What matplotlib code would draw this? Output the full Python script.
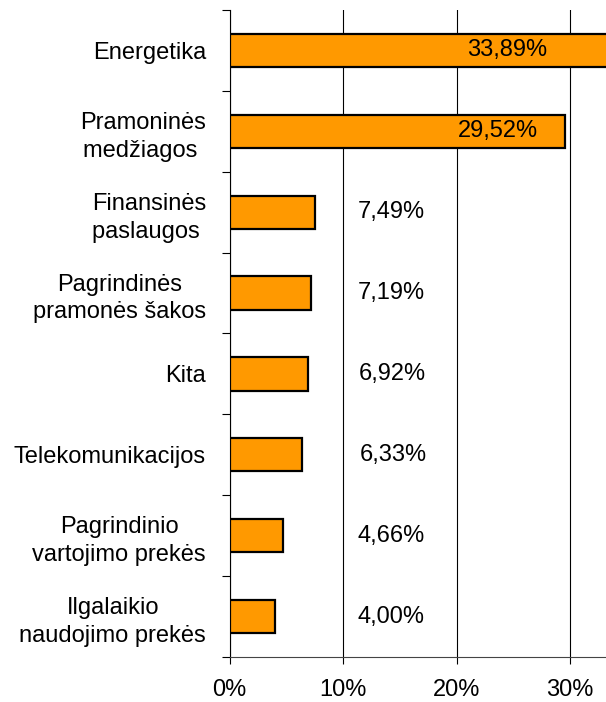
import numpy as np
import matplotlib
matplotlib.use("Agg")
import matplotlib.pyplot as plt

plt.rcParams['font.family'] = ['Liberation Sans', 'DejaVu Sans']

# duomenys (iš viršaus į apačią)
sektoriai = [
    "Energetika",
    "Pramoninės\nmedžiagos ",
    "Finansinės\npaslaugos ",
    "Pagrindinės\npramonės šakos",
    "Kita",
    "Telekomunikacijos",
    "Pagrindinio\nvartojimo prekės",
    "Ilgalaikio\nnaudojimo prekės",
]
dalys = [33.89, 29.52, 7.49, 7.19, 6.92, 6.33, 4.66, 4.00]
x_ticks = [0, 10, 20, 30]

# etikečių vieta (x, %)
label_x = [24.4, 23.6, 14.2, 14.2, 14.3, 14.4, 14.2, 14.2]

fig = plt.figure(figsize=(6.06, 7.02), dpi=100)
ax = fig.add_axes([0.379, 0.0641, 0.621, 0.9217])

y = np.arange(len(dalys))
ax.barh(y, dalys, height=0.41, color='#FF9900', edgecolor='black',
        linewidth=1.6, zorder=3)

for yi, v, lx in zip(y, dalys, label_x):
    ax.text(lx, yi, f"{v:.2f}%".replace('.', ','), ha='center', va='center',
            fontsize=17, zorder=4)

ax.set_xlim(0, 33.15)
ax.set_ylim(len(dalys) - 0.5, -0.5)

ax.set_xticks(x_ticks)
ax.set_xticklabels([f"{t}%" for t in x_ticks], fontsize=17)
ax.set_yticks(y)
ax.set_yticklabels(sektoriai, fontsize=17, multialignment='center',
                   linespacing=1.35)
ax.set_yticks(np.arange(len(dalys) + 1) - 0.5, minor=True)

ax.tick_params(axis='y', which='major', length=0, pad=17)
ax.tick_params(axis='y', which='minor', length=5.5, width=0.8, direction='out')
ax.tick_params(axis='x', length=5, width=0.8, direction='out', pad=11)

ax.xaxis.grid(True, color='black', linewidth=0.8, zorder=0)
for s in ['top', 'right']:
    ax.spines[s].set_visible(False)
ax.spines['left'].set_linewidth(0.8)
ax.spines['bottom'].set_linewidth(0.8)
ax.spines['bottom'].set_color('#444444')

fig.savefig('out.png', dpi=100)
